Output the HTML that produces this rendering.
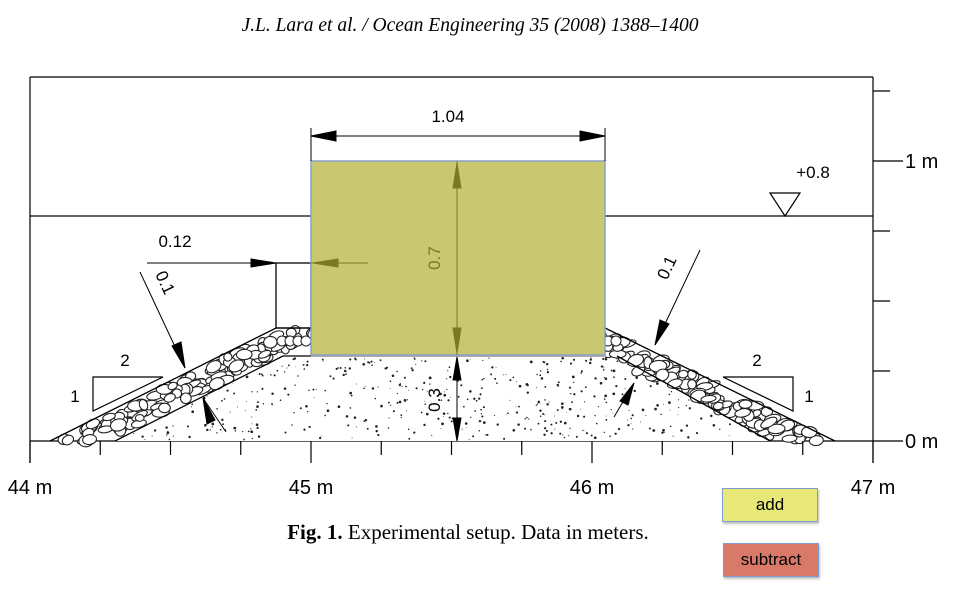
<!DOCTYPE html>
<html><head><meta charset="utf-8"><style>
body{margin:0;background:#fff;width:960px;height:594px;overflow:hidden;font-family:"Liberation Sans",sans-serif}
.btn{position:absolute;font:17px "Liberation Sans",sans-serif;text-align:center;box-sizing:border-box;border:1.5px solid #7f9ccf;box-shadow:1px 2px 2px rgba(0,0,0,.25)}
</style></head><body>
<svg id="s" width="960" height="594" style="position:absolute;left:0;top:0" font-family="Liberation Sans, sans-serif">
<text x="470" y="31" text-anchor="middle" font-family="Liberation Serif, serif" font-style="italic" font-size="19.5">J.L. Lara et al. / Ocean Engineering 35 (2008) 1388–1400</text>
<g id="frame" stroke="#000" stroke-width="1.2" fill="none">
<line x1="30" y1="77" x2="873" y2="77"/><line x1="30" y1="77" x2="30" y2="463"/><line x1="873" y1="77" x2="873" y2="463"/>
<line x1="30" y1="441" x2="873" y2="441"/><line x1="30" y1="216" x2="873" y2="216"/>
</g>
<g id="core"></g><g id="armor"></g>
<g stroke="#000" stroke-width="1.3" fill="none">
<polyline points="50,441 276,328 311,328"/><polyline points="115,441 283,356 311,356"/>
<polyline points="605,328 835,441"/><polyline points="617,356 770,441"/>
<rect x="276" y="263" width="35" height="65"/>
</g>
<rect x="311" y="345" width="294" height="12" fill="#aaa"/>
<rect x="311" y="161" width="294" height="194" fill="#c9c870" stroke="#8aa0c8" stroke-width="1.5"/>
<g id="dims" stroke="#000" stroke-width="1" fill="none">
<line x1="311" y1="128" x2="311" y2="161"/><line x1="605" y1="128" x2="605" y2="161"/>
<line x1="311" y1="136" x2="605" y2="136"/>
<polygon points="311,136 336,131 336,141" fill="#000"/><polygon points="605,136 580,131 580,141" fill="#000"/>
<line x1="147" y1="263" x2="276" y2="263"/><polygon points="276,263 251,259 251,267" fill="#000"/>
<line x1="140" y1="272" x2="185" y2="368"/><polygon points="185,368 172,346 181,342" fill="#000"/>
<line x1="226" y1="432" x2="203" y2="398"/><polygon points="203,398 215,420 207,424" fill="#000"/>
<line x1="700" y1="250" x2="655" y2="345"/><polygon points="655,345 660,320 669,324" fill="#000"/>
<line x1="614" y1="417" x2="634" y2="383"/><polygon points="634,383 628,405 620,401" fill="#000"/>
<line x1="457" y1="357" x2="457" y2="441"/><polygon points="457,357 453,380 461,380" fill="#000"/><polygon points="457,441 453,418 461,418" fill="#000"/>
<polyline points="163,377 93,411 93,377 163,377" stroke-width="1.2"/>
<polyline points="723,377 793,411 793,377 723,377" stroke-width="1.2"/>
<polygon points="770,193 800,193 785,216" stroke-width="1.2"/>
</g>
<g stroke="#7c7a20" stroke-width="1" fill="none">
<line x1="368" y1="263" x2="311" y2="263"/><polygon points="313,263 338,259 338,267" fill="#7c7a20"/>
<line x1="457" y1="161" x2="457" y2="355"/><polygon points="457,163 453,188 461,188" fill="#7c7a20"/><polygon points="457,353 453,328 461,328" fill="#7c7a20"/>
</g>
<g font-size="17" fill="#000">
<text x="448" y="122" text-anchor="middle">1.04</text>
<text x="175" y="247" text-anchor="middle">0.12</text>
<text transform="translate(440,258) rotate(-90)" text-anchor="middle" fill="#7c7a20">0.7</text>
<text transform="translate(440,400) rotate(-90)" text-anchor="middle">0.3</text>
<text transform="translate(160,285) rotate(65)" text-anchor="middle">0.1</text>
<text transform="translate(672,270) rotate(-65)" text-anchor="middle">0.1</text>
<text x="125" y="366" text-anchor="middle">2</text><text x="75" y="402" text-anchor="middle">1</text>
<text x="757" y="366" text-anchor="middle">2</text><text x="809" y="402" text-anchor="middle">1</text>
<text x="813" y="178" text-anchor="middle">+0.8</text>
</g>
<g id="axes" font-size="20"></g>
<text x="468" y="539" text-anchor="middle" font-family="Liberation Serif, serif" font-size="21"><tspan font-weight="bold">Fig. 1.</tspan>  Experimental setup. Data in meters.</text>
</svg>
<div class="btn" style="left:722px;top:488px;width:96px;height:34px;line-height:31px;background:#e8e878">add</div>
<div class="btn" style="left:723px;top:543px;width:96px;height:34px;line-height:31px;background:#d9796a">subtract</div>
<script>
const xTicks=[44,44.25,44.5,44.75,45,45.25,45.5,45.75,46,46.25,46.5,46.75,47];
const xLabels=["44 m","45 m","46 m","47 m"];
const xLabelVals=[44,45,46,47];
const yTicks=[0,0.25,0.5,0.75,1,1.25];
const yLabels=["0 m","1 m"];
const yLabelVals=[0,1];
const NS="http://www.w3.org/2000/svg";
const X=v=>30+(v-44)*281, Y=v=>441-v*280;
const ax=document.getElementById('axes');
function mk(t,a,p){const e=document.createElementNS(NS,t);for(const k in a)e.setAttribute(k,a[k]);p.appendChild(e);return e;}
xTicks.forEach(v=>{const maj=Number.isInteger(v);const l=mk('line',{x1:X(v),x2:X(v),y1:441,y2:maj?463:455,stroke:'#000','stroke-width':1.2},ax);

});
xLabelVals.forEach((v,i)=>{const t=mk('text',{x:X(v),y:494,'text-anchor':'middle'},ax);t.textContent=xLabels[i];

});
yTicks.forEach(v=>{const maj=Number.isInteger(v);const l=mk('line',{x1:873,x2:maj?903:890,y1:Y(v),y2:Y(v),stroke:'#000','stroke-width':1.2},ax);

});
yLabelVals.forEach((v,i)=>{const t=mk('text',{x:905,y:Y(v)+7},ax);t.textContent=yLabels[i];

});
// decorative textures (seeded)
let seed=7;const r=()=>(seed=(seed*16807)%2147483647)/2147483647;
const core=document.getElementById('core');
mk('polygon',{points:'115,441 283,356 617,356 770,441',fill:'#fff'},core);
for(let i=0;i<450;i++){const y=358+r()*82,t=(y-356)/85;const x0=283-168*t+3,x1=617+153*t-3;const x=x0+r()*(x1-x0);
mk('circle',{cx:x,cy:y,r:0.4+r()*1.0,fill:'#222'},core);}
const arm=document.getElementById('armor');
function band(ax0,ay0,ax1,ay1,ox,n){for(let i=0;i<n;i++){const t=r(),u=0.12+r()*0.76;const x=ax0+(ax1-ax0)*t+ox*u,y=ay0+(ay1-ay0)*t;
mk('ellipse',{cx:x,cy:y,rx:4+r()*5,ry:3+r()*3,fill:'#fff',stroke:'#222','stroke-width':1.1,transform:`rotate(${-30+r()*30} ${x} ${y})`},arm);}}
band(50,441,276,328,62,130);band(605,328,835,441,-62,130);
for(let x=282;x<311;x+=8)mk('ellipse',{cx:x,cy:341,rx:5,ry:5,fill:'#fff',stroke:'#222'},arm);
for(let x=608;x<622;x+=8)mk('ellipse',{cx:x,cy:341,rx:5,ry:5,fill:'#fff',stroke:'#222'},arm);
</script>
</body></html>
